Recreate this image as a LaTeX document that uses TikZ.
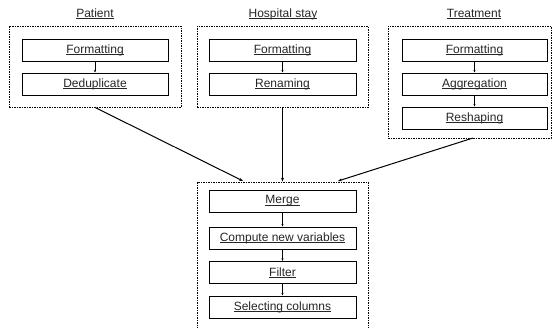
\documentclass[tikz,border=0pt]{standalone}
\usepackage{fontspec}
\setmainfont{Liberation Sans}
\usetikzlibrary{arrows.meta}
\tikzset{
  stepbox/.style={draw, line width=1pt, minimum width=146pt, minimum height=22pt, inner sep=0pt, font=\fontsize{12}{14}\selectfont, text=black!85},
  group/.style={draw, line width=0.8pt, dash pattern=on 1.5pt off 1pt, inner sep=0pt},
  title/.style={font=\fontsize{12}{14}\selectfont, text=black!85},
  link/.style={line width=1pt, -{Stealth[length=4pt,width=3pt]}},
  small/.style={line width=0.7pt, -{Stealth[length=2.5pt,width=2pt]}}
}
\newcommand{\ul}[1]{\setbox0\hbox{#1}\rlap{\rule[-1.4pt]{\wd0}{0.6pt}}\box0}
\begin{document}
\begin{tikzpicture}[x=1pt,y=-1pt]
\useasboundingbox (0,0) rectangle (552,327);
% groups
\node[group, minimum width=172pt, minimum height=81pt] (pg) at (95,66.5) {};
\node[group, minimum width=171pt, minimum height=81pt] (hg) at (282.5,66.5) {};
\node[group, minimum width=163pt, minimum height=112pt] (tg) at (469.5,82) {};
\node[group, minimum width=171pt, minimum height=148pt] (bg) at (282.5,256) {};
% titles
\node[title] (pt) at (95,14) {\ul{Patient}};
\node[title] (ht) at (283,14) {\ul{Hospital stay}};
\node[title] (tt) at (474,14) {\ul{Treatment}};
% patient
\node[stepbox] (p1) at (95,50) {\ul{Formatting}};
\node[stepbox] (p2) at (95,84) {\ul{Deduplicate}};
% hospital
\node[stepbox, minimum width=147pt] (h1) at (282.5,50) {\ul{Formatting}};
\node[stepbox, minimum width=147pt] (h2) at (282.5,84) {\ul{Renaming}};
% treatment
\node[stepbox, minimum width=145pt] (t1) at (474.5,50) {\ul{Formatting}};
\node[stepbox, minimum width=145pt] (t2) at (474.5,84) {\ul{Aggregation}};
\node[stepbox, minimum width=145pt] (t3) at (474.5,118) {\ul{Reshaping}};
% bottom
\node[stepbox, minimum width=147pt] (b1) at (282.5,201) {\ul{Merge}};
\node[stepbox, minimum width=147pt] (b2) at (282.5,238) {\ul{Compute new variables}};
\node[stepbox, minimum width=147pt] (b3) at (282.5,272.5) {\ul{Filter}};
\node[stepbox, minimum width=147pt] (b4) at (282.5,307) {\ul{Selecting columns}};
% inner arrows
\draw[small] (p1) -- (p2);
\draw[small] (h1) -- (h2);
\draw[small] (t1) -- (t2);
\draw[small] (t2) -- (t3);
\draw[small] (b1) -- (b2);
\draw[small] (b2) -- (b3);
\draw[small] (b3) -- (b4);
% connectors
\coordinate (inl) at (243,181);
\coordinate (inr) at (338,181);
\coordinate (ts) at (473,138);
\draw[link] (pg.south) -- (inl);
\draw[link] (hg.south) -- (bg.north);
\draw[link] (ts) -- (inr);
\end{tikzpicture}
\end{document}
